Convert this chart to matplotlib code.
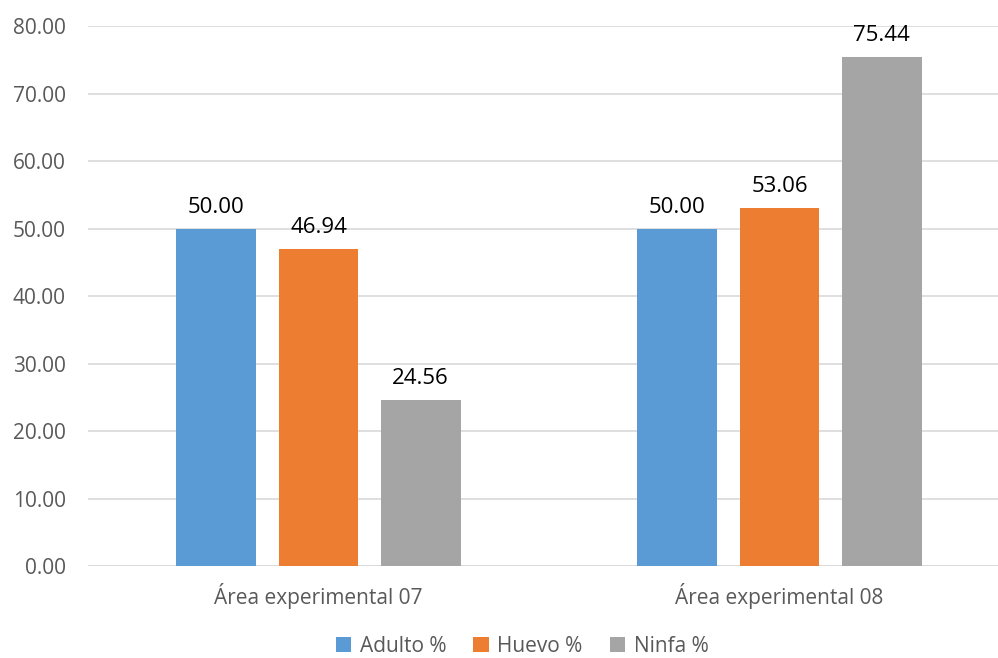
import numpy as np
import matplotlib.pyplot as plt

plt.rcParams['font.family'] = ['Open Sans', 'DejaVu Sans']

# Datos
categorias = ['Área experimental 07', 'Área experimental 08']
series = ['Adulto %', 'Huevo %', 'Ninfa %']
adulto = [50.00, 50.00]
huevo = [46.94, 53.06]
ninfa = [24.56, 75.44]
colores = ['#5B9BD5', '#ED7D31', '#A5A5A5']
yticks = [0, 10, 20, 30, 40, 50, 60, 70, 80]

W, H = 998, 658
fig = plt.figure(figsize=(W / 100, H / 100), dpi=100)
# área de trazado en píxeles: izquierda 88, ancho 922, arriba 26, abajo 566
ax = fig.add_axes([88 / W, 1 - 566 / H, 922 / W, 540 / H])

x = np.arange(len(categorias))
ancho = 0.1735
paso = 0.2213
for i, (nombre, vals) in enumerate(zip(series, [adulto, huevo, ninfa])):
    pos = x + (i - 1) * paso
    ax.bar(pos, vals, ancho, color=colores[i], label=nombre, zorder=3)
    for px, v in zip(pos, vals):
        ax.text(px, v + 1.6, f'{v:.2f}', ha='center', va='bottom',
                fontsize=16, color='black', clip_on=False)

ax.set_xlim(-0.5, 1.5)
ax.set_ylim(0, 80)
ax.set_yticks(yticks)
ax.set_yticklabels([f'{t:.2f}' for t in yticks])
ax.set_xticks(x)
ax.set_xticklabels(categorias)
ax.yaxis.grid(True, color='#D9D9D9', linewidth=1.2, zorder=0)
for s in ax.spines.values():
    s.set_visible(False)
ax.tick_params(axis='both', length=0, labelcolor='#595959', labelsize=15)
ax.tick_params(axis='y', pad=16)
ax.tick_params(axis='x', pad=12)
ax.axhline(0, color='#D9D9D9', linewidth=1.2, zorder=2)

fig.legend(loc='center', bbox_to_anchor=(522 / W, 1 - 646 / H), ncol=3,
           frameon=False, fontsize=15, handlelength=0.75, handleheight=0.75,
           handletextpad=0.4, columnspacing=1.3, labelcolor='#595959')

fig.savefig('out.png', dpi=100)
